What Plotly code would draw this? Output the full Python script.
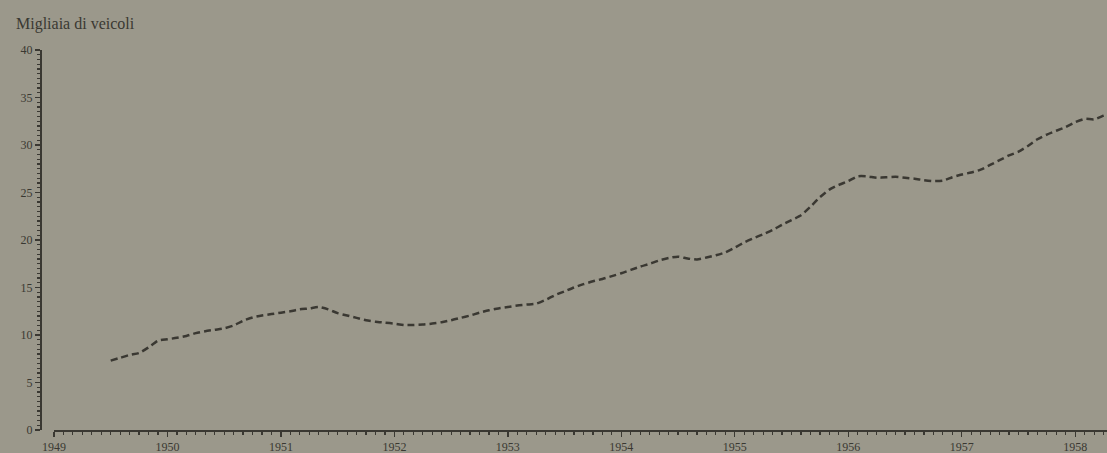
import plotly.graph_objects as go

# Monthly positions as decimal years (month start) and values (thousands of vehicles)
months = [
    "1949-07", "1949-08", "1949-09", "1949-10", "1949-11", "1949-12",
    "1950-01", "1950-02", "1950-03", "1950-04", "1950-05", "1950-06",
    "1950-07", "1950-08", "1950-09", "1950-10", "1950-11", "1950-12",
    "1951-01", "1951-02", "1951-03", "1951-04", "1951-05", "1951-06",
    "1951-07", "1951-08", "1951-09", "1951-10", "1951-11", "1951-12",
    "1952-01", "1952-02", "1952-03", "1952-04", "1952-05", "1952-06",
    "1952-07", "1952-08", "1952-09", "1952-10", "1952-11", "1952-12",
    "1953-01", "1953-02", "1953-03", "1953-04", "1953-05", "1953-06",
    "1953-07", "1953-08", "1953-09", "1953-10", "1953-11", "1953-12",
    "1954-01", "1954-02", "1954-03", "1954-04", "1954-05", "1954-06",
    "1954-07", "1954-08", "1954-09", "1954-10", "1954-11", "1954-12",
    "1955-01", "1955-02", "1955-03", "1955-04", "1955-05", "1955-06",
    "1955-07", "1955-08", "1955-09", "1955-10", "1955-11", "1955-12",
    "1956-01", "1956-02", "1956-03", "1956-04", "1956-05", "1956-06",
    "1956-07", "1956-08", "1956-09", "1956-10", "1956-11", "1956-12",
    "1957-01", "1957-02", "1957-03", "1957-04", "1957-05", "1957-06",
    "1957-07", "1957-08", "1957-09", "1957-10", "1957-11", "1957-12",
    "1958-01", "1958-02", "1958-03", "1958-04", "1958-05", "1958-06",
]
vehicles = [
    7.3, 7.6, 7.9, 8.1, 8.7, 9.4,
    9.55, 9.7, 9.9, 10.2, 10.4, 10.55,
    10.7, 11.0, 11.5, 11.85, 12.05, 12.2,
    12.35, 12.5, 12.7, 12.8, 12.95, 12.7,
    12.3, 12.05, 11.8, 11.55, 11.4, 11.3,
    11.2, 11.05, 11.05, 11.1, 11.2, 11.35,
    11.55, 11.8, 12.05, 12.35, 12.6, 12.8,
    12.95, 13.1, 13.2, 13.3, 13.7, 14.2,
    14.6, 15.0, 15.35, 15.65, 15.9, 16.2,
    16.5, 16.85, 17.2, 17.5, 17.85, 18.1,
    18.25, 18.05, 17.95, 18.15, 18.4, 18.7,
    19.2, 19.75, 20.2, 20.6, 21.05, 21.6,
    22.1, 22.6, 23.5, 24.5, 25.3, 25.8,
    26.2, 26.7, 26.7, 26.55, 26.6, 26.65,
    26.55, 26.45, 26.3, 26.2, 26.25, 26.6,
    26.9, 27.1, 27.4, 27.9, 28.4, 28.9,
    29.3, 29.9, 30.6, 31.1, 31.5, 31.9,
    32.4, 32.75, 32.7, 33.1, 33.5, 33.8,
]
year_ticks = [1949, 1950, 1951, 1952, 1953, 1954, 1955, 1956, 1957, 1958]
y_ticks = [0, 5, 10, 15, 20, 25, 30, 35, 40]
y_title = "Migliaia di veicoli"

x_pos = [int(m[:4]) + (int(m[5:]) - 1) / 12 for m in months]

bg = "#9b988b"
ink = "#3a3832"
font_family = "Liberation Serif, DejaVu Serif, serif"

fig = go.Figure()
fig.add_trace(go.Scatter(
    x=x_pos, y=vehicles, mode="lines",
    line=dict(color=ink, width=2.5, dash="7px,4px", shape="spline", smoothing=0.6),
    hoverinfo="skip", showlegend=False,
))

fig.update_layout(
    width=1107, height=453,
    paper_bgcolor=bg, plot_bgcolor=bg,
    margin=dict(l=40, r=0, t=50, b=23, autoexpand=False),
    font=dict(family=font_family, color=ink, size=12),
    xaxis=dict(
        domain=[0.0131, 1], range=[1949, 1958.28], automargin=False,
        tickmode="array", tickvals=year_ticks, ticktext=[str(v) for v in year_ticks],
        ticks="outside", ticklen=5, tickwidth=1.3, tickcolor=ink,
        showline=True, linecolor=ink, linewidth=1.6,
        showgrid=False, zeroline=False,
        minor=dict(dtick=1/12, tick0=1949, ticks="outside", ticklen=3, tickwidth=1.2,
                   tickcolor=ink, showgrid=False),
        tickfont=dict(size=12, color=ink),
        fixedrange=True,
    ),
    yaxis=dict(
        anchor="free", position=0, range=[0, 40], automargin=False,
        tickmode="array", tickvals=y_ticks, ticktext=[str(v) for v in y_ticks],
        ticks="outside", ticklen=5, tickwidth=1.3, tickcolor=ink,
        showline=True, linecolor=ink, linewidth=1.6,
        showgrid=False, zeroline=False,
        minor=dict(dtick=0.5, tick0=0, ticks="outside", ticklen=3, tickwidth=1.1,
                   tickcolor=ink, showgrid=False),
        tickfont=dict(size=12, color=ink),
        fixedrange=True,
    ),
    annotations=[dict(
        text=y_title, xref="paper", yref="paper", x=-0.024, y=1.0,
        xanchor="left", yanchor="bottom", yshift=15, showarrow=False,
        font=dict(size=16, color=ink, family=font_family),
    )],
)

fig.write_html(
    "out.html",
    config={"displayModeBar": False, "staticPlot": True},
    post_script="document.body.style.margin='0';document.body.style.overflow='hidden';"
                "document.body.style.background='" + bg + "';",
)
